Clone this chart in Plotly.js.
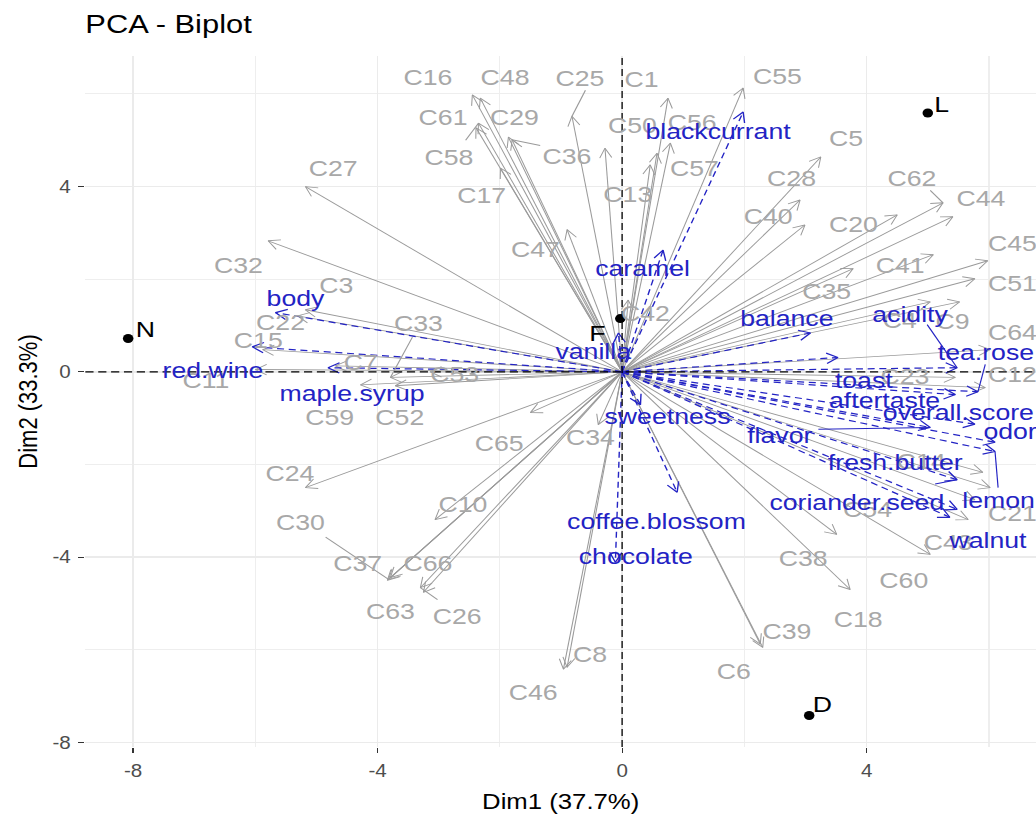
<!DOCTYPE html>
<html>
<head>
<meta charset="utf-8">
<script src="https://cdn.plot.ly/plotly-3.0.1.min.js"></script>
<style>
html,body{margin:0;padding:0;overflow:hidden;background:#fff;}
#wrap{width:1036px;height:819px;overflow:hidden;position:relative;}
#chart{width:886px;height:819px;transform:scaleX(1.1693);transform-origin:0 0;}
</style>
</head>
<body>
<div id="wrap"><div id="chart"></div></div>
<script>
// ---------------- data ----------------
const consumers = ['C16','C48','C25','C1','C55','C61','C29','C58','C36','C17','C50','C13','C56','C57','C5','C28','C40','C20','C62','C44','C41','C45','C51','C35','C9','C4','C64','C23','C12','C14','C21','C54','C43','C60','C38','C18','C39','C6','C8','C46','C26','C63','C37','C30','C66','C10','C24','C65','C34','C59','C52','C33','C53','C7','C11','C15','C22','C3','C32','C27','C47','C42'];
const consumerDim1 = [-2.45,-2.32,-0.82,0.75,1.98,-2.35,-1.86,-2.39,-1.80,-1.99,-0.28,0.46,0.79,0.57,3.25,2.91,2.99,4.50,5.25,5.41,5.09,5.98,5.77,3.78,5.52,5.04,6.02,5.45,5.94,5.90,6.02,5.77,5.66,5.04,3.51,3.73,2.30,2.26,-0.90,-0.96,-3.30,-3.79,-3.84,-3.82,-3.25,-3.06,-5.18,-1.50,-0.39,-4.28,-3.71,-3.79,-3.14,-4.69,-6.00,-5.88,-5.31,-5.18,-5.79,-5.18,-0.90,0.10];
const consumerDim2 = [5.98,5.91,5.52,5.91,6.13,5.37,5.07,5.27,5.01,4.40,4.83,4.47,4.94,4.72,4.64,3.71,3.17,3.39,3.65,3.35,2.53,2.40,2.01,2.23,1.51,1.51,0.48,-0.12,-0.34,-2.17,-2.50,-2.76,-3.19,-3.94,-3.51,-4.70,-5.95,-5.88,-6.38,-6.42,-4.66,-4.44,-4.50,-4.48,-4.76,-3.19,-2.50,-0.88,-1.14,-0.28,-0.30,-0.12,0.00,0.13,0.05,0.48,1.21,1.34,2.83,4.00,3.07,1.55];

const attributes = ['blackcurrant','caramel','body','red.wine','maple.syrup','vanilla','balance','acidity','tea.rose','toast','aftertaste','overall.score','odor','flavor','fresh.butter','coriander.seed','lemon','walnut','sweetness','coffee.blossom','chocolate'];
const attributeDim1 = [1.98,0.67,-5.67,-6.05,-4.81,-0.06,3.08,5.48,5.82,3.53,5.45,5.77,6.10,5.04,5.48,5.48,6.10,5.36,0.30,0.90,-0.11];
const attributeDim2 = [5.61,2.63,1.28,0.54,0.09,0.84,0.84,0.09,-0.43,0.31,-0.49,-1.13,-1.52,-1.20,-2.33,-2.97,-1.72,-3.14,-0.71,-2.60,-4.11];

const individuals = ['N','L','D','F'];
const individualDim1 = [-8.08,5.00,3.06,-0.03];
const individualDim2 = [0.72,5.59,-7.42,1.15];

const xTicks = [-8,-4,0,4];
const yTicks = [-8,-4,0,4];
const xTickLabels = ['-8','-4','0','4'];
const yTickLabels = ['-8','-4','0','4'];
const xMinor = [-6,-2,2,6];
const yMinor = [-6,-2,2,6];
const xTitle = 'Dim1 (37.7%)';
const yTitle = 'Dim2 (33.3%)';
const chartTitle = 'PCA - Biplot';

// ---------------- label placement (repelled text positions, data units) ----------------
const consumerLabelX = [-3.17,-1.91,-0.69,0.31,2.55,-2.93,-1.76,-2.83,-0.90,-2.30,0.17,0.10,1.15,1.18,3.66,2.78,2.39,3.78,4.74,5.87,4.55,6.38,6.38,3.34,5.41,4.55,6.38,4.63,6.38,4.90,6.38,4.02,5.33,4.60,2.96,3.86,2.69,1.82,-0.52,-1.45,-2.70,-3.79,-4.33,-5.26,-3.18,-2.61,-5.43,-2.01,-0.52,-4.79,-3.64,-3.33,-2.73,-4.28,-6.81,-5.95,-5.59,-4.67,-6.28,-4.72,-1.42,0.38];
const consumerLabelY = [6.36,6.36,6.34,6.33,6.39,5.50,5.50,4.64,4.66,3.82,5.33,3.84,5.40,4.40,5.05,4.18,3.36,3.19,4.19,3.76,2.31,2.78,1.92,1.75,1.10,1.12,0.85,-0.10,-0.04,-1.92,-3.04,-2.97,-3.68,-4.50,-4.01,-5.34,-5.60,-6.46,-6.10,-6.91,-5.28,-5.17,-4.13,-3.25,-4.13,-2.86,-2.18,-1.53,-1.40,-0.97,-0.97,1.06,-0.04,0.22,-0.17,0.69,1.08,1.88,2.31,4.40,2.65,1.28];
const attributeLabelX = [1.57,0.33,-5.33,-6.69,-4.41,-0.47,2.69,4.72,5.94,3.96,4.30,5.49,6.34,2.59,4.48,3.85,6.15,5.98,0.74,0.57,0.23];
const attributeLabelY = [5.20,2.24,1.60,0.05,-0.45,0.44,1.16,1.25,0.43,-0.17,-0.60,-0.86,-1.28,-1.36,-1.94,-2.80,-2.76,-3.64,-0.95,-3.23,-3.98];
const individualLabelX = [-7.80,5.23,3.27,-0.41];
const individualLabelY = [0.93,5.78,-7.17,0.84];
// leader segments drawn by the label repel: [label name, start x, start y]
const greyLeaders = [['C25',-0.60,6.08],['C61',-2.56,5.00],['C36',-1.34,4.89],['C30',-4.85,-3.57],['C62',5.04,3.92],['C26',-3.02,-4.92],['C33',-3.43,0.75]];
const blueLeaders = [['acidity',4.99,1.02],['tea.rose',5.94,0.16],['flavor',3.21,-1.24],['lemon',6.15,-2.50],['fresh.butter',5.12,-2.42]];

// ---------------- styling ----------------
const FONT = 'Liberation Sans, Arial, Helvetica, sans-serif';
const GREY_TXT = '#A8A8A8';
const GREY_LINE = '#9A9A9A';
const BLUE = '#2323C4';
const W = 886, H = 819;
const M = {l:73, r:0, t:56, b:72};
const xRange = [-8.78, 6.77];
const yRange = [-8.1, 6.82];
const kx = (W - M.l - M.r) / (xRange[1] - xRange[0]);   // px per unit, x
const ky = (H - M.t - M.b) / (yRange[1] - yRange[0]);   // px per unit, y
const HEAD_LEN = 11, HEAD_ANGLE = 28 * Math.PI / 180;

function shafts(xs, ys) {
  const X = [], Y = [];
  xs.forEach((v, i) => { X.push(0, v, null); Y.push(0, ys[i], null); });
  return {X, Y};
}
// open "V" arrow heads at each tip, oriented along origin -> tip in screen space
function heads(xs, ys) {
  const X = [], Y = [];
  xs.forEach((x, i) => {
    const y = ys[i];
    const dx = x * kx, dy = y * ky, L = Math.hypot(dx, dy);
    const bx = -dx / L, by = -dy / L;
    const c = Math.cos(HEAD_ANGLE), s = Math.sin(HEAD_ANGLE);
    const w1x = bx * c - by * s, w1y = bx * s + by * c;
    const w2x = bx * c + by * s, w2y = -bx * s + by * c;
    X.push(x + HEAD_LEN * w1x / kx, x, x + HEAD_LEN * w2x / kx, null);
    Y.push(y + HEAD_LEN * w1y / ky, y, y + HEAD_LEN * w2y / ky, null);
  });
  return {X, Y};
}
const g = shafts(consumerDim1, consumerDim2);
const gh = heads(consumerDim1, consumerDim2);
const b = shafts(attributeDim1, attributeDim2);
const bh = heads(attributeDim1, attributeDim2);

function leaderTrace(list, names, tx, ty, color) {
  const X = [], Y = [];
  list.forEach(l => {
    const i = names.indexOf(l[0]);
    X.push(l[1], tx[i], null); Y.push(l[2], ty[i], null);
  });
  return {x: X, y: Y, mode: 'lines', line: {color: color, width: 1}, hoverinfo: 'skip', type: 'scatter'};
}

const traces = [
  {x: g.X, y: g.Y, mode: 'lines', type: 'scatter', line: {color: GREY_LINE, width: 0.9}, hoverinfo: 'skip'},
  {x: gh.X, y: gh.Y, mode: 'lines', type: 'scatter', line: {color: GREY_LINE, width: 0.9}, hoverinfo: 'skip'},
  {x: b.X, y: b.Y, mode: 'lines', type: 'scatter', line: {color: BLUE, width: 1.2, dash: '6px,4px'}, hoverinfo: 'skip'},
  {x: bh.X, y: bh.Y, mode: 'lines', type: 'scatter', line: {color: BLUE, width: 1.2}, hoverinfo: 'skip'},
  leaderTrace(greyLeaders, consumers, consumerDim1, consumerDim2, GREY_LINE),
  leaderTrace(blueLeaders, attributes, attributeDim1, attributeDim2, BLUE),
  {x: individualDim1, y: individualDim2, mode: 'markers', type: 'scatter', marker: {color: '#000', size: 9}, text: individuals, hoverinfo: 'text'}
];

const annotations = [];
function label(t, x, y, color) {
  annotations.push({x: x, y: y, xref: 'x', yref: 'y', text: t, showarrow: false,
    xanchor: 'center', yanchor: 'middle', font: {family: FONT, size: 22.8, color: color}});
}
consumers.forEach((c, i) => label(c, consumerLabelX[i], consumerLabelY[i], GREY_TXT));
attributes.forEach((a, i) => label(a, attributeLabelX[i], attributeLabelY[i], BLUE));
individuals.forEach((p, i) => label(p, individualLabelX[i], individualLabelY[i], '#000'));

const layout = {
  width: W, height: H,
  margin: {l: M.l, r: M.r, t: M.t, b: M.b, pad: 0},
  paper_bgcolor: '#fff', plot_bgcolor: '#fff',
  showlegend: false,
  font: {family: FONT, color: '#000'},
  title: {text: chartTitle, x: 0, xref: 'paper', xanchor: 'left', y: 1 - 24 / H, yref: 'container', yanchor: 'middle',
    font: {family: FONT, size: 26.4, color: '#000'}},
  xaxis: {range: xRange, tickmode: 'array', tickvals: xTicks, ticktext: xTickLabels,
    showgrid: true, gridcolor: '#EBEBEB', gridwidth: 1.3, zeroline: false, showline: false,
    minor: {tickmode: 'array', tickvals: xMinor, showgrid: true, gridcolor: '#EEEEEE', gridwidth: 1, ticks: ''},
    ticks: 'outside', ticklen: 5, tickwidth: 1, tickcolor: '#333', ticklabelstandoff: 3,
    tickfont: {family: FONT, size: 17.6, color: '#4D4D4D'},
    title: {text: xTitle, font: {family: FONT, size: 22, color: '#000'}, standoff: 13},
    fixedrange: true},
  yaxis: {range: yRange, tickmode: 'array', tickvals: yTicks, ticktext: yTickLabels,
    showgrid: true, gridcolor: '#EBEBEB', gridwidth: 1.3, zeroline: false, showline: false,
    minor: {tickmode: 'array', tickvals: yMinor, showgrid: true, gridcolor: '#EEEEEE', gridwidth: 1, ticks: ''},
    ticks: 'outside', ticklen: 5, tickwidth: 1, tickcolor: '#333', ticklabelstandoff: 3,
    tickfont: {family: FONT, size: 17.6, color: '#4D4D4D'},
    title: {text: yTitle, font: {family: FONT, size: 22, color: '#000'}, standoff: 6},
    fixedrange: true},
  shapes: [
    {type: 'line', xref: 'x', yref: 'paper', x0: 0, x1: 0, y0: 0, y1: 1, line: {color: '#000', width: 1.1, dash: '7px,4px'}, layer: 'above'},
    {type: 'line', xref: 'paper', yref: 'y', x0: 0, x1: 1, y0: 0, y1: 0, line: {color: '#000', width: 1.1, dash: '7px,4px'}, layer: 'above'}
  ],
  annotations: annotations
};

Plotly.newPlot('chart', traces, layout, {displayModeBar: false, staticPlot: true});
</script>
</body>
</html>
